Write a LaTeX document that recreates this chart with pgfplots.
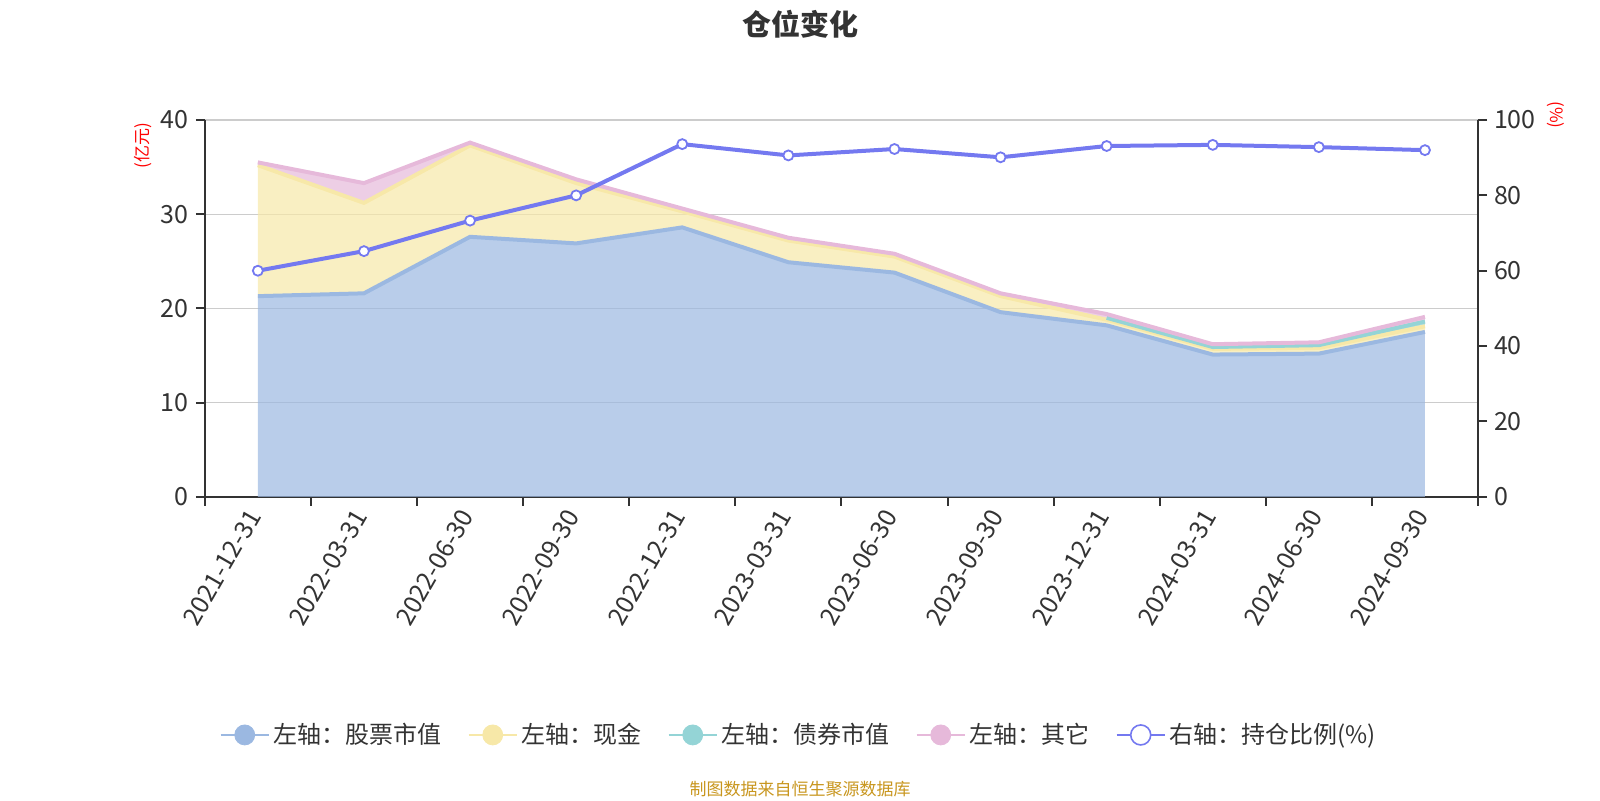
\documentclass[border=0pt]{standalone}
\usepackage{fontspec}
\setmainfont{Noto Sans CJK SC}
\usepackage{pgfplots}
\pgfplotsset{compat=1.18}
\usepackage{pgfplotstable}
\usepgfplotslibrary{fillbetween}
\definecolor{stockline}{HTML}{9BB8E1}
\definecolor{cashline}{HTML}{F7E8A8}
\definecolor{bondline}{HTML}{94D4D6}
\definecolor{otherline}{HTML}{E6B9DA}
\definecolor{ratioline}{HTML}{7479F0}
\definecolor{axc}{HTML}{333333}
\definecolor{gridc}{HTML}{CCCCCC}
\definecolor{srcc}{HTML}{C8961E}

\pgfplotstableread{
x stock cash bond other ratio
0 21.3 13.9 0 0.3 60.0
1 21.6 9.6 0 2.1 65.2
2 27.6 9.7 0 0.3 73.3
3 26.9 6.4 0 0.4 80.0
4 28.6 1.7 0 0.3 93.6
5 24.9 2.3 0 0.3 90.6
6 23.8 1.7 0 0.3 92.3
7 19.6 1.7 0 0.3 90.1
8 18.2 0.6 0.2 0.4 93.1
9 15.1 0.6 0.2 0.3 93.4
10 15.2 0.6 0.3 0.3 92.8
11 17.5 0.6 0.5 0.5 92.0
}\data

\begin{document}
\begin{tikzpicture}
\begin{axis}[
  at={(102.4pt,151.6pt)}, anchor=south west,
  width=636.6pt, height=188.4pt, scale only axis,
  xmin=-0.5, xmax=11.5, ymin=0, ymax=40,
  axis x line*=bottom, axis y line*=left,
  axis line style={-, draw=axc, line width=1pt},
  every outer x axis line/.append style={-},
  every outer y axis line/.append style={-},
  tick align=outside,
  xtick={0,...,11},
  xticklabels={2021-12-31,2022-03-31,2022-06-30,2022-09-30,2022-12-31,2023-03-31,2023-06-30,2023-09-30,2023-12-31,2024-03-31,2024-06-30,2024-09-30},
  major x tick style={draw=none},
  minor xtick={-0.5,0.5,...,11.5},
  minor tick length=4.5pt,
  major tick length=4.5pt,
  minor x tick style={draw=axc, line width=1pt},
  ytick={0,10,...,40},
  major y tick style={draw=axc, line width=1pt},
  ymajorgrids,
  grid style={draw=gridc, line width=0.7pt},
  tick label style={font=\fontsize{12.5}{14}\selectfont, text=axc},
  xticklabel style={rotate=60, anchor=east},
  /pgf/number format/assume math mode=true,
  legend style={at={(0.4674,-0.632)}, anchor=center, draw=none, fill=none,
    font=\fontsize{12}{14}\selectfont, text=axc, legend columns=5,
    /tikz/every even column/.append style={column sep=11pt}},
  legend cell align=left,
]
\addplot[name path=zero, draw=none, forget plot] coordinates {(0,0) (11,0)};
\addplot[name path=s, draw=none, forget plot] table[x=x, y=stock] {\data};
\addplot[name path=c, draw=none, forget plot] table[x=x, y expr=\thisrow{stock}+\thisrow{cash}] {\data};
\addplot[name path=b, draw=none, forget plot] table[x=x, y expr=\thisrow{stock}+\thisrow{cash}+\thisrow{bond}] {\data};
\addplot[name path=o, draw=none, forget plot] table[x=x, y expr=\thisrow{stock}+\thisrow{cash}+\thisrow{bond}+\thisrow{other}] {\data};
\addplot[fill=stockline, fill opacity=0.7, forget plot] fill between[of=s and zero];
\addplot[fill=cashline, fill opacity=0.7, forget plot] fill between[of=c and s];
\addplot[fill=bondline, fill opacity=0.7, forget plot] fill between[of=b and c];
\addplot[fill=otherline, fill opacity=0.7, forget plot] fill between[of=o and b];
\addplot[stockline, line width=2pt, forget plot] table[x=x, y=stock] {\data};
\addplot[cashline, line width=2pt, forget plot] table[x=x, y expr=\thisrow{stock}+\thisrow{cash}] {\data};
\addplot[bondline, line width=2pt, forget plot, restrict x to domain=7.5:11.5] table[x=x, y expr=\thisrow{stock}+\thisrow{cash}+\thisrow{bond}] {\data};
\addplot[otherline, line width=2pt, forget plot] table[x=x, y expr=\thisrow{stock}+\thisrow{cash}+\thisrow{bond}+\thisrow{other}] {\data};
\addlegendimage{legend image code/.code={\draw[stockline, line width=1pt] (0pt,0pt) -- (24pt,0pt); \fill[stockline] (12pt,0pt) circle (5pt);}}
\addlegendentry{左轴：股票市值}
\addlegendimage{legend image code/.code={\draw[cashline, line width=1pt] (0pt,0pt) -- (24pt,0pt); \fill[cashline] (12pt,0pt) circle (5pt);}}
\addlegendentry{左轴：现金}
\addlegendimage{legend image code/.code={\draw[bondline, line width=1pt] (0pt,0pt) -- (24pt,0pt); \fill[bondline] (12pt,0pt) circle (5pt);}}
\addlegendentry{左轴：债券市值}
\addlegendimage{legend image code/.code={\draw[otherline, line width=1pt] (0pt,0pt) -- (24pt,0pt); \fill[otherline] (12pt,0pt) circle (5pt);}}
\addlegendentry{左轴：其它}
\addlegendimage{legend image code/.code={\draw[ratioline, line width=1pt] (0pt,0pt) -- (24pt,0pt); \filldraw[draw=ratioline, fill=white, line width=0.8pt] (12pt,0pt) circle (5pt);}}
\addlegendentry{右轴：持仓比例(\%)}
\end{axis}
\begin{axis}[
  at={(102.4pt,151.6pt)}, anchor=south west,
  width=636.6pt, height=188.4pt, scale only axis,
  xmin=-0.5, xmax=11.5, ymin=0, ymax=100,
  axis x line=none, axis y line*=right,
  axis line style={-, draw=axc, line width=1pt},
  every outer y axis line/.append style={-},
  tick align=outside,
  ytick={0,20,...,100},
  major tick length=4.5pt,
  major y tick style={draw=axc, line width=1pt},
  tick label style={font=\fontsize{12.5}{14}\selectfont, text=axc},
  /pgf/number format/assume math mode=true,
]
\addplot[ratioline, line width=2pt, mark=*, mark size=2.5pt,
  mark options={fill=white, draw=ratioline, line width=0.9pt}] table[x=x, y=ratio] {\data};
\end{axis}
\node[font=\bfseries\fontsize{14.5}{16}\selectfont, text=axc] at (400pt,388pt) {仓位变化};
\node[rotate=90, font=\fontsize{8.5}{9}\selectfont, text=red] at (71.5pt,327.3pt) {(亿元)};
\node[rotate=-90, font=\fontsize{8.5}{9}\selectfont, text=red] at (778pt,342.5pt) {(\%)};
\node[font=\fontsize{8.5}{10}\selectfont, text=srcc] at (400pt,5.5pt) {制图数据来自恒生聚源数据库};
\pgfresetboundingbox
\useasboundingbox (0,0) rectangle (800pt,400pt);
\end{tikzpicture}
\end{document}
